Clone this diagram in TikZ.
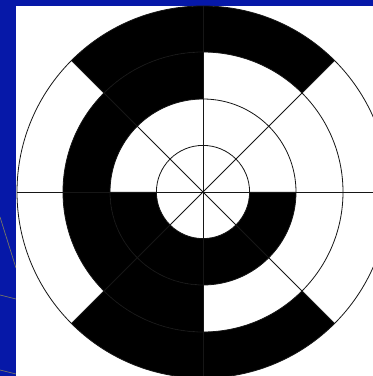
\documentclass[tikz,border=0pt]{standalone}
\definecolor{slideblue}{RGB}{6,24,168}
\definecolor{deco}{RGB}{120,120,100}
\definecolor{ringline}{RGB}{22,22,22}
\tikzset{
  decoline/.style={draw=deco,line width=0.7pt},
  diskline/.style={draw=ringline,line width=0.8pt},
  blackseg/.style={fill=black}
}
\newcommand{\annseg}[4]{% r1 r2 a1 a2
  \fill[blackseg] (#3:#2) arc[start angle=#3,end angle=#4,radius=#2] -- (#4:#1) arc[start angle=#4,end angle=#3,radius=#1] -- cycle;}
\begin{document}
\begin{tikzpicture}[x=1pt,y=1pt]
\useasboundingbox (0,0) rectangle (373,376);
\fill[slideblue] (0,0) rectangle (373,376);
% faint decorative lines in the blue margin
\draw[decoline] (0,159) -- (16,108);
\draw[decoline] (0,81) -- (16,77);
\draw[decoline] (0,6) -- (16,2);
\fill[white] (16,0) rectangle (373,370.3);
\begin{scope}
\clip (16,0) rectangle (373,370.3);
\begin{scope}[shift={(203pt,184pt)}]
% outer track
\annseg{140}{186}{45}{135}
\annseg{140}{186}{225}{315}
% middle track
\annseg{93}{140}{90}{270}
% inner track
\annseg{46.6}{93}{180}{360}
% grid of the disk
\foreach \r in {46.6,93,140,186} \draw[diskline] (0,0) circle[radius=\r];
\foreach \a in {0,45,90,135} \draw[diskline] (\a:186) -- (\a+180:186);
\end{scope}
\end{scope}
\end{tikzpicture}
\end{document}
